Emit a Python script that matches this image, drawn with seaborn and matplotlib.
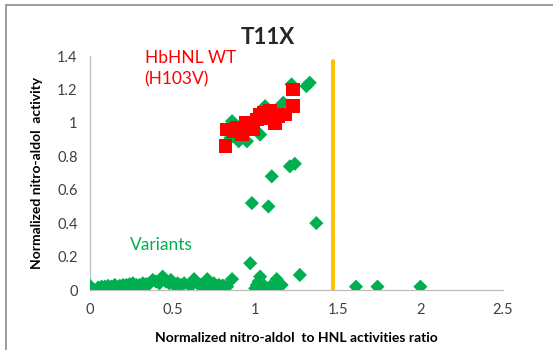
import numpy as np
import pandas as pd
import seaborn as sns
import matplotlib
matplotlib.use("Agg")
import matplotlib.pyplot as plt
from matplotlib.lines import Line2D

# ---- data ----
wt_x = [0.82, 0.83, 0.87, 0.89, 0.92, 0.94, 0.96, 0.99, 1.01, 1.03, 1.05, 1.07, 1.09, 1.12, 1.14, 1.18, 1.23, 1.23]
wt_y = [0.86, 0.96, 0.95, 0.97, 0.93, 1.00, 0.98, 0.96, 1.02, 1.05, 1.06, 1.03, 1.07, 1.00, 1.04, 1.05, 1.10, 1.20]

var_x = [0.85, 0.86, 0.90, 0.95, 1.03, 1.06, 1.13, 1.17, 1.22, 1.31, 1.33,
         1.10, 1.21, 1.24, 0.98, 1.08, 1.37, 0.97, 1.27,
         0.86, 1.03, 1.13, 1.61, 1.74, 2.00,
         0.71, 0.76, 0.81, 1.00, 1.02, 1.05, 1.09, 1.12, 1.16, 1.01, 1.04,
         0.00, 0.38, 0.44, 0.49, 0.63, 0.71,
         0.05, 0.07, 0.09, 0.11, 0.13, 0.15, 0.16, 0.18, 0.20, 0.22, 0.24, 0.26,
         0.28, 0.30, 0.32, 0.34, 0.36, 0.40, 0.42, 0.46, 0.48, 0.51, 0.53, 0.55,
         0.57, 0.60, 0.62, 0.65, 0.67, 0.69, 0.73, 0.75, 0.78, 0.80, 0.83,
         0.10, 0.14, 0.19, 0.23, 0.27, 0.31, 0.35]
var_y = [0.91, 1.01, 0.89, 0.89, 0.93, 1.10, 1.08, 1.12, 1.23, 1.22, 1.24,
         0.68, 0.74, 0.755, 0.52, 0.50, 0.40, 0.16, 0.09,
         0.065, 0.08, 0.065, 0.02, 0.02, 0.02,
         0.03, 0.02, 0.025, 0.01, 0.05, 0.03, 0.02, 0.02, 0.03, 0.03, 0.02,
         0.025, 0.06, 0.08, 0.06, 0.065, 0.065,
         0.015, 0.02, 0.02, 0.025, 0.02, 0.03, 0.02, 0.025, 0.03, 0.03, 0.035, 0.04,
         0.03, 0.03, 0.04, 0.035, 0.04, 0.05, 0.04, 0.05, 0.04, 0.03, 0.04, 0.03,
         0.04, 0.03, 0.035, 0.04, 0.03, 0.035, 0.03, 0.04, 0.03, 0.025, 0.02,
         0.01, 0.015, 0.02, 0.02, 0.025, 0.02, 0.03]

threshold_x = [1.47, 1.47]
threshold_y = [0.0, 1.37]

x_ticks = [0, 0.5, 1, 1.5, 2, 2.5]
x_tick_labels = ["0", "0.5", "1", "1.5", "2", "2.5"]
y_ticks = [0, 0.2, 0.4, 0.6, 0.8, 1.0, 1.2, 1.4]
y_tick_labels = ["0", "0.2", "0.4", "0.6", "0.8", "1", "1.2", "1.4"]

title = "T11X"
x_label = "Normalized nitro-aldol  to HNL activities ratio"
y_label = "Normalized nitro-aldol  activity"

# ---- style ----
sns.set_theme(style="white")
plt.rcParams['font.family'] = ['Lato', 'DejaVu Sans']

fig = plt.figure(figsize=(5.53, 3.5), dpi=100)
ax = fig.add_axes([90/553, 1-290/350, (503-90)/553, (290-56)/350])

df_var = pd.DataFrame({"x": var_x, "y": var_y})
df_wt = pd.DataFrame({"x": wt_x, "y": wt_y})

sns.scatterplot(data=df_var, x="x", y="y", ax=ax, marker="D", s=52,
                color="#00B050", edgecolor="none", zorder=3)
sns.scatterplot(data=df_wt, x="x", y="y", ax=ax, marker="s", s=95,
                color="#FF0000", edgecolor="none", zorder=4)
sns.lineplot(x=threshold_x, y=threshold_y, ax=ax, color="#FFC000", lw=2.8,
             zorder=2, estimator=None, sort=False)

ax.set_xlim(0, 2.5)
ax.set_ylim(0, 1.4)
ax.set_xticks(x_ticks)
ax.set_xticklabels(x_tick_labels)
ax.set_yticks(y_ticks)
ax.set_yticklabels(y_tick_labels)
ax.tick_params(axis="both", direction="out", length=4, width=0.8, color="#BFBFBF",
               labelsize=10.5, labelcolor="#404040", pad=5)
for s in ["top", "right"]:
    ax.spines[s].set_visible(False)
for s in ["left", "bottom"]:
    ax.spines[s].set_color("#BFBFBF")
    ax.spines[s].set_linewidth(0.9)

ax.set_xlabel(x_label, fontsize=10, fontweight="bold", color="#000000", labelpad=11)
ax.set_ylabel(y_label, fontsize=10, fontweight="bold", color="#000000", labelpad=10)

ax.text(0.33, 1.39, "HbHNL WT", color="#FF0000", fontsize=12.5, va="center", ha="left")
ax.text(0.33, 1.26, "(H103V)", color="#FF0000", fontsize=12.5, va="center", ha="left")
ax.text(0.24, 0.27, "Variants", color="#00B050", fontsize=12.5, va="center", ha="left")

fig.text(268/553, 1-37/350, title, fontsize=16, fontweight="bold", ha="center", va="center")

# chart border (top and left edges visible)
fig.add_artist(Line2D([6/553, 6/553], [0, 1-5/350], transform=fig.transFigure,
                      color="#8C8C8C", lw=1.2))
fig.add_artist(Line2D([6/553, 1], [1-5/350, 1-5/350], transform=fig.transFigure,
                      color="#8C8C8C", lw=1.2))

fig.savefig("out.png", dpi=100)
